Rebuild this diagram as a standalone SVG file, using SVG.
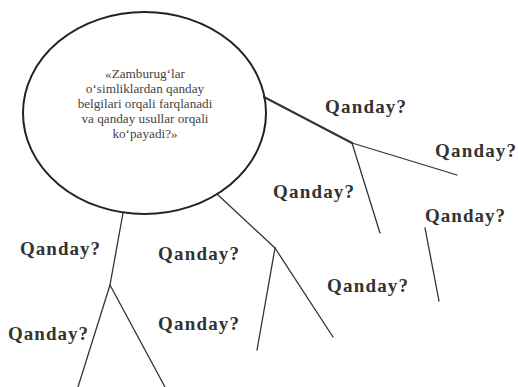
<svg xmlns="http://www.w3.org/2000/svg" width="518" height="387" viewBox="0 0 518 387">
<style>
.ell{fill:none;stroke:#222;stroke-width:2}
.ln{fill:none;stroke:#333;stroke-width:1.3;stroke-linecap:round}
.thick{stroke-width:2}
</style>
<rect x="0" y="0" width="518" height="387" fill="#ffffff"/>
<g id="connectors">
<line class="ln thick" x1="264" y1="97" x2="352" y2="143"/>
<line class="ln" x1="352" y1="143" x2="457" y2="175"/>
<line class="ln" x1="352" y1="143" x2="380" y2="233"/>
<line class="ln" x1="425" y1="228" x2="439" y2="301"/>
<line class="ln" x1="217" y1="194" x2="275" y2="248"/>
<line class="ln" x1="275" y1="248" x2="257" y2="350"/>
<line class="ln" x1="275" y1="248" x2="333" y2="337"/>
<line class="ln" x1="123" y1="213" x2="110" y2="285"/>
<line class="ln" x1="110" y1="285" x2="78" y2="387"/>
<line class="ln" x1="110" y1="285" x2="165" y2="387"/>
</g>
<g id="center" font-family="'Liberation Serif', 'DejaVu Serif', serif" font-size="13.2" fill="#444" text-anchor="middle">
<ellipse class="ell" cx="144.5" cy="113" rx="121.5" ry="101"/>
<text x="145" y="78">«Zamburug‘lar</text>
<text x="145" y="93">o‘simliklardan qanday</text>
<text x="145" y="108">belgilari orqali farqlanadi</text>
<text x="145" y="123">va qanday usullar orqali</text>
<text x="145" y="138">ko‘payadi?»</text>
</g>
<g id="labels" font-family="'Liberation Serif', 'DejaVu Serif', serif" font-weight="bold" font-size="19" fill="#333">
<text x="325" y="113" textLength="81" lengthAdjust="spacing">Qanday?</text>
<text x="435" y="157" textLength="81" lengthAdjust="spacing">Qanday?</text>
<text x="273" y="198" textLength="81" lengthAdjust="spacing">Qanday?</text>
<text x="425" y="222" textLength="80" lengthAdjust="spacing">Qanday?</text>
<text x="327" y="292" textLength="81" lengthAdjust="spacing">Qanday?</text>
<text x="20" y="255" textLength="80" lengthAdjust="spacing">Qanday?</text>
<text x="158" y="260" textLength="81" lengthAdjust="spacing">Qanday?</text>
<text x="8" y="340" textLength="80" lengthAdjust="spacing">Qanday?</text>
<text x="158" y="330" textLength="81" lengthAdjust="spacing">Qanday?</text>
</g>
</svg>
